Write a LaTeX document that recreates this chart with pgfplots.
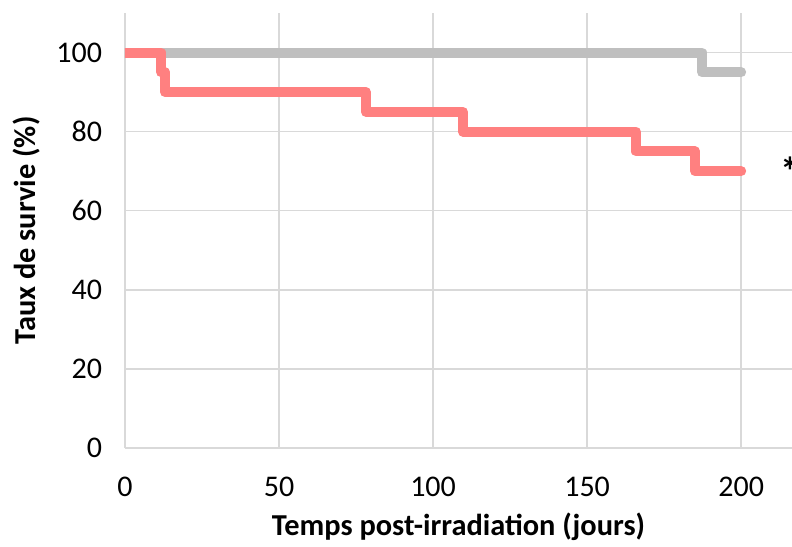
\documentclass[border=0pt]{standalone}
\usepackage{fontspec}
\setmainfont{Carlito}
\usepackage{pgfplots}
\pgfplotsset{compat=1.18}
\definecolor{survred}{RGB}{255,128,128}
\definecolor{survgray}{RGB}{191,191,191}
\definecolor{gridgray}{RGB}{217,217,217}

\begin{document}
\begin{tikzpicture}
\begin{axis}[
  name=ax, at={(0,0)}, anchor=south west,
  scale only axis, width=333.5bp, height=217.5bp,
  xmin=0, xmax=216.5, ymin=0, ymax=110,
  xtick={0,50,...,200}, ytick={0,20,...,100},
  axis x line=bottom, axis y line=left,
  axis line style={draw=gridgray, line width=0.75bp, -},
  major tick length=0pt,
  grid=major, major grid style={draw=gridgray, line width=0.75bp},
  tick label style={font=\fontsize{15bp}{18bp}\selectfont, text=black},
  /pgf/number format/assume math mode=true,
  xticklabel style={yshift=-11bp},
  yticklabel style={xshift=-8bp},
  xlabel={Temps post-irradiation (jours)},
  ylabel={Taux de survie (\%)},
  label style={font=\bfseries\fontsize{15.2bp}{18bp}\selectfont},
  xlabel style={at={(axis description cs:0.5,-0.1816)}, anchor=center},
  ylabel style={at={(axis description cs:-0.147,0.5)}, anchor=center},
]
% control group
\addplot[survgray, line width=5bp, line cap=round, line join=round]
  coordinates {(0,100) (187.3,100) (187.3,95) (200,95)};
% irradiated group
\addplot[survred, line width=5bp, line cap=round, line join=round]
  coordinates {(0,100) (11.7,100) (11.7,95) (13,95) (13,90)
               (78.2,90) (78.2,85) (109.7,85) (109.7,80)
               (165.9,80) (165.9,75) (185,75) (185,70) (200,70)};
\node[anchor=west, inner sep=0pt, font=\bfseries\fontsize{20bp}{24bp}\selectfont]
  at (axis cs:212.6,70) {*};
\end{axis}
\pgfresetboundingbox
\path ([shift={(-62.5bp,-49.5bp)}]ax.south west) rectangle ([shift={(0bp,6.5bp)}]ax.north east);
\end{tikzpicture}
\end{document}
